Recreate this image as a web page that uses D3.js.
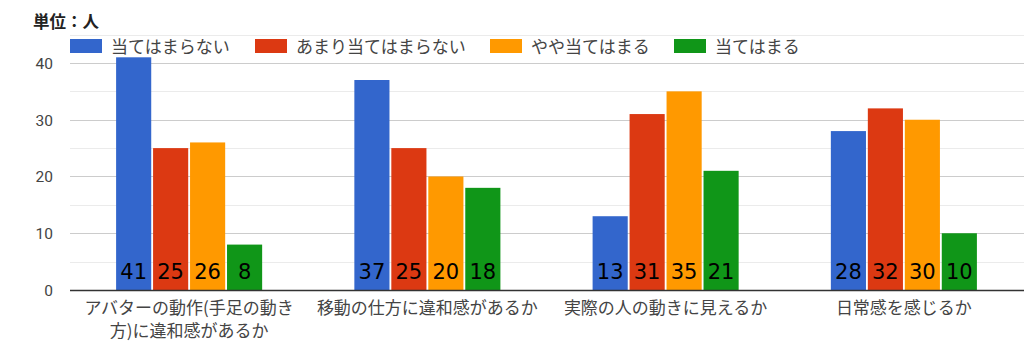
<!DOCTYPE html>
<html><head><meta charset="utf-8">
<script src="https://cdn.jsdelivr.net/npm/d3@7"></script>
<style>body{margin:0;background:#fff}svg{display:block}</style>
</head><body>
<svg id="c" width="1024" height="355"></svg>
<script>
const categories = ["アバターの動作(手足の動き\n方)に違和感があるか", "移動の仕方に違和感があるか", "実際の人の動きに見えるか", "日常感を感じるか"];
const seriesNames = ["当てはまらない", "あまり当てはまらない", "やや当てはまる", "当てはまる"];
const s1 = [41, 37, 13, 28];
const s2 = [25, 25, 31, 32];
const s3 = [26, 20, 35, 30];
const s4 = [8, 18, 21, 10];
const yTicks = [0, 10, 20, 30, 40];
const colors = ["#3366cc", "#dc3912", "#ff9900", "#109618"];
const title = "単位：人";

(function(){
const series = [s1, s2, s3, s4];
const svg = d3.select("#c");
const jp = "'Noto Sans CJK JP','Noto Sans',sans-serif";
const pL = 70, pR = 1023, pT = 34.6, pB = 290;

const y = d3.scaleLinear().domain([0, 45]).range([pB, pT]);
const x0 = d3.scaleBand().domain(categories).range([pL, pR]).paddingInner(0.387).paddingOuter(0.1935);
const x1 = d3.scaleBand().domain(d3.range(4)).range([0, x0.bandwidth()]).paddingInner(0.05);

// grid
const minor = d3.range(5, 46, 10);
svg.append("g").selectAll("line").data(minor).join("line")
  .attr("x1", pL).attr("x2", 1024).attr("y1", d => Math.round(y(d)) + 0.5).attr("y2", d => Math.round(y(d)) + 0.5)
  .attr("stroke", "#ebebeb").attr("stroke-width", 1);
svg.append("g").selectAll("line").data(yTicks.slice(1)).join("line")
  .attr("x1", pL).attr("x2", 1024).attr("y1", d => Math.round(y(d)) + 0.5).attr("y2", d => Math.round(y(d)) + 0.5)
  .attr("stroke", "#cccccc").attr("stroke-width", 1);

// y axis labels
const yAxis = d3.axisLeft(y).tickValues(yTicks).tickSize(0).tickPadding(0);
const ya = svg.append("g").attr("transform", `translate(53,0)`).call(yAxis);
ya.select(".domain").remove();
ya.selectAll("text").attr("font-family", "Roboto, 'Noto Sans', sans-serif").attr("font-size", 15.5).attr("fill", "#444").attr("dy", "0.34em");

// bars
const groups = svg.append("g").selectAll("g").data(categories).join("g")
  .attr("transform", d => `translate(${x0(d)},0)`);
groups.each(function(cat, ci) {
  const g = d3.select(this);
  series.forEach((s, si) => {
    const v = s[ci];
    g.append("rect").attr("x", x1(si)).attr("width", x1.bandwidth())
      .attr("y", y(v)).attr("height", y(0) - y(v)).attr("fill", colors[si]);
    g.append("text").attr("x", x1(si) + x1.bandwidth() / 2).attr("y", 279)
      .attr("text-anchor", "middle").attr("font-family", "'DejaVu Sans', sans-serif")
      .attr("font-size", 21).attr("fill", "#000").text(v);
  });
});

// baseline
svg.append("line").attr("x1", pL).attr("x2", 1024).attr("y1", y(0) + 0.5).attr("y2", y(0) + 0.5)
  .attr("stroke", "#333").attr("stroke-width", 1.5);

// x labels
const xAxis = d3.axisBottom(x0).tickSize(0).tickFormat("");
const xa = svg.append("g").attr("transform", `translate(0,${pB})`).call(xAxis);
xa.select(".domain").remove();
categories.forEach(c => {
  c.split("\n").forEach((ln, i) => {
    svg.append("text").attr("text-anchor", "middle").attr("font-family", jp)
      .attr("font-size", 17).attr("fill", "#444")
      .attr("x", x0(c) + x0.bandwidth() / 2).attr("y", 314 + i * 23).text(ln);
  });
});

// legend
const legX = [70, 255, 490, 674];
seriesNames.forEach((n, i) => {
  svg.append("rect").attr("x", legX[i]).attr("y", 39).attr("width", 32).attr("height", 14).attr("fill", colors[i]);
  svg.append("text").attr("x", legX[i] + 41).attr("y", 52.5).attr("font-family", jp)
    .attr("font-size", 17).attr("fill", "#444").text(n);
});

// title
svg.append("text").attr("x", 33).attr("y", 28).attr("font-family", jp).attr("font-size", 16.5)
  .attr("font-weight", "bold").attr("fill", "#222").text(title);
})();
</script>
</body></html>
